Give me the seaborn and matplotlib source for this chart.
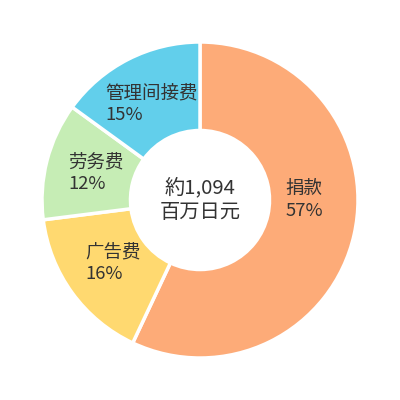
import numpy as np
import matplotlib
matplotlib.use("Agg")
import matplotlib.pyplot as plt
import seaborn as sns

# 数据
categories = ["捐款", "广告费", "劳务费", "管理间接费"]
shares = [57, 16, 12, 15]
colors = ["#FDAB78", "#FFD970", "#C6EDB5", "#62CFEB"]
center_text = "約1,094\n百万日元"

sns.set_theme(style="white")
plt.rcParams["font.family"] = ["Noto Sans CJK JP", "DejaVu Sans"]

fig = plt.figure(figsize=(4, 4), dpi=100)
ax = fig.add_axes([0, 0, 1, 1])

wedges, _ = ax.pie(shares, colors=colors, startangle=90, counterclock=False,
                   radius=1.0,
                   wedgeprops=dict(width=0.56, edgecolor="white", linewidth=2.5))

# 标签放在每块扇区中间（大扇区的标签放在水平方向）
for w, cat, val in zip(wedges, categories, shares):
    mid = (w.theta1 + w.theta2) / 2
    r = 0.68
    if val > 50:
        mid, r = 0.0, 0.66
    mid = np.deg2rad(mid)
    x, y = r * np.cos(mid), r * np.sin(mid)
    ax.text(x, y, f"{cat}\n{val}%", ha="center", va="center",
            multialignment="left", fontsize=13.3, color="#333333", linespacing=1.3)

ax.text(0, 0, center_text, ha="center", va="center", fontsize=14.6,
        color="#333333", linespacing=1.25)

lim = 200 / 158
ax.set_xlim(-lim, lim)
ax.set_ylim(-lim, lim)
ax.set_aspect("equal")
ax.axis("off")

fig.savefig("out.png", dpi=100, facecolor="white")
